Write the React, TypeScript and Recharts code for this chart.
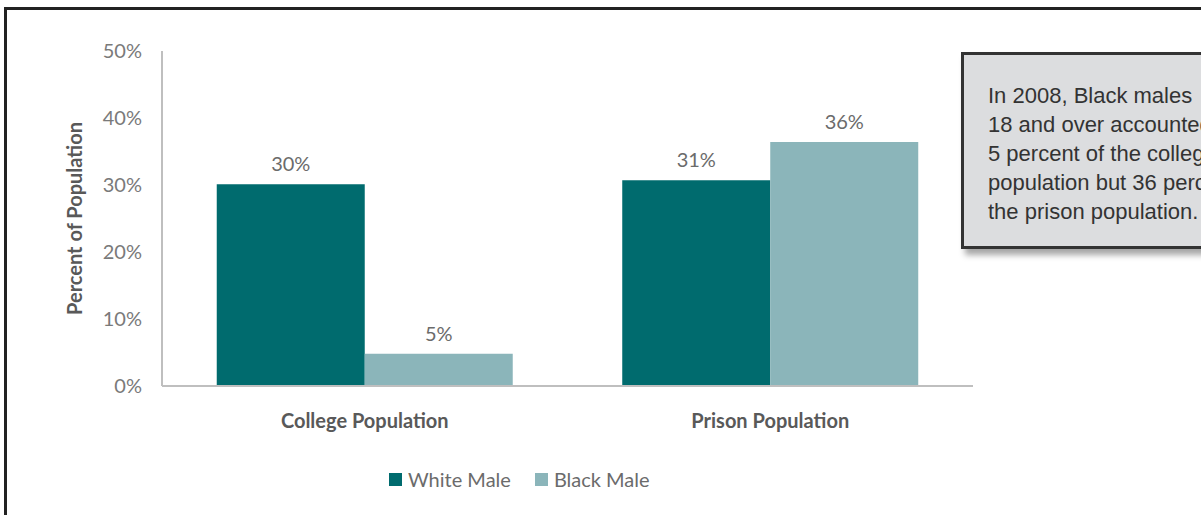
import React from 'react';
import { BarChart, Bar, XAxis, YAxis, Legend, LabelList } from 'recharts';

const categories = ['College Population', 'Prison Population'];
const whiteMale = [30.1, 30.7];
const blackMale = [4.8, 36.4];
const yTicks = [0, 10, 20, 30, 40, 50];

const seriesNames = ['White Male', 'Black Male'];
const colors = ['#006b6e', '#8bb5ba'];

const noteLines = [
  'In 2008, Black males',
  '18 and over accounted for',
  '5 percent of the college',
  'population but 36 percent of',
  'the prison population.',
];

const data = categories.map((name, i) => ({
  name,
  white: whiteMale[i],
  black: blackMale[i],
}));

const FONT = 'Lato, "Open Sans", sans-serif';

function LegendContent() {
  return (
    <div style={{ display: 'flex', alignItems: 'center', fontFamily: FONT, fontSize: 20, color: '#6b6b6b' }}>
      {seriesNames.map((n, i) => (
        <div key={n} style={{ display: 'flex', alignItems: 'center', marginRight: i === 0 ? 24 : 0 }}>
          <span style={{ display: 'inline-block', width: 13, height: 13, background: colors[i], marginRight: 6 }} />
          <span>{n}</span>
        </div>
      ))}
    </div>
  );
}

export default function App() {
  return (
    <div
      style={{
        position: 'absolute',
        left: 0,
        top: 0,
        width: 1201,
        height: 515,
        overflow: 'hidden',
        background: '#fff',
        fontFamily: FONT,
      }}
    >
      {/* outer frame, cut off at right and bottom */}
      <div
        style={{
          position: 'absolute',
          left: 4,
          top: 7,
          width: 1400,
          height: 700,
          border: '3px solid #222',
          boxSizing: 'border-box',
        }}
      />
      <div style={{ position: 'absolute', left: 0, top: 0 }}>
        <BarChart
          width={1000}
          height={515}
          data={data}
          margin={{ top: 51, right: 27, left: 0, bottom: 10 }}
          barCategoryGap="13.5%"
          barGap={0}
        >
          <XAxis
            dataKey="name"
            height={83}
            tickLine={false}
            tickMargin={22}
            axisLine={{ stroke: '#bfbfbf', strokeWidth: 2 }}
            tick={{ fontSize: 20, fontWeight: 700, fill: '#595959', fontFamily: FONT }}
          />
          <YAxis
            width={162}
            domain={[0, 50]}
            ticks={yTicks}
            tickLine={false}
            tickMargin={14}
            axisLine={{ stroke: '#bfbfbf', strokeWidth: 2 }}
            tick={{ fontSize: 20, fill: '#7a7a7a', fontFamily: FONT }}
            tickFormatter={(v) => `${v}%`}
            label={{
              value: 'Percent of Population',
              angle: -90,
              position: 'center',
              dx: -6,
              style: { fontSize: 20, fontWeight: 700, fill: '#595959', fontFamily: FONT, textAnchor: 'middle' },
            }}
          />
          <Legend
            verticalAlign="bottom"
            height={36}
            wrapperStyle={{ top: 467, bottom: 'auto', left: 389, width: 'auto' }}
            content={() => <LegendContent />}
          />
          <Bar dataKey="white" name={seriesNames[0]} fill={colors[0]} isAnimationActive={false}>
            <LabelList
              dataKey="white"
              position="top"
              offset={13}
              formatter={(v: number) => `${Math.round(v)}%`}
              style={{ fontSize: 20, fill: '#6b6b6b', fontFamily: FONT }}
            />
          </Bar>
          <Bar dataKey="black" name={seriesNames[1]} fill={colors[1]} isAnimationActive={false}>
            <LabelList
              dataKey="black"
              position="top"
              offset={13}
              formatter={(v: number) => `${Math.round(v)}%`}
              style={{ fontSize: 20, fill: '#6b6b6b', fontFamily: FONT }}
            />
          </Bar>
        </BarChart>
      </div>
      {/* annotation box */}
      <div
        style={{
          position: 'absolute',
          left: 961,
          top: 52,
          width: 400,
          height: 197,
          background: '#dcdddf',
          border: '3px solid #333',
          boxSizing: 'border-box',
          boxShadow: '4px 6px 6px rgba(0,0,0,0.35)',
          padding: '26px 0 0 24px',
          fontFamily: '"Liberation Sans", Arial, sans-serif',
          fontSize: 22,
          lineHeight: '29px',
          color: '#333',
          whiteSpace: 'nowrap',
        }}
      >
        {noteLines.map((l) => (
          <div key={l}>{l}</div>
        ))}
      </div>
    </div>
  );
}
